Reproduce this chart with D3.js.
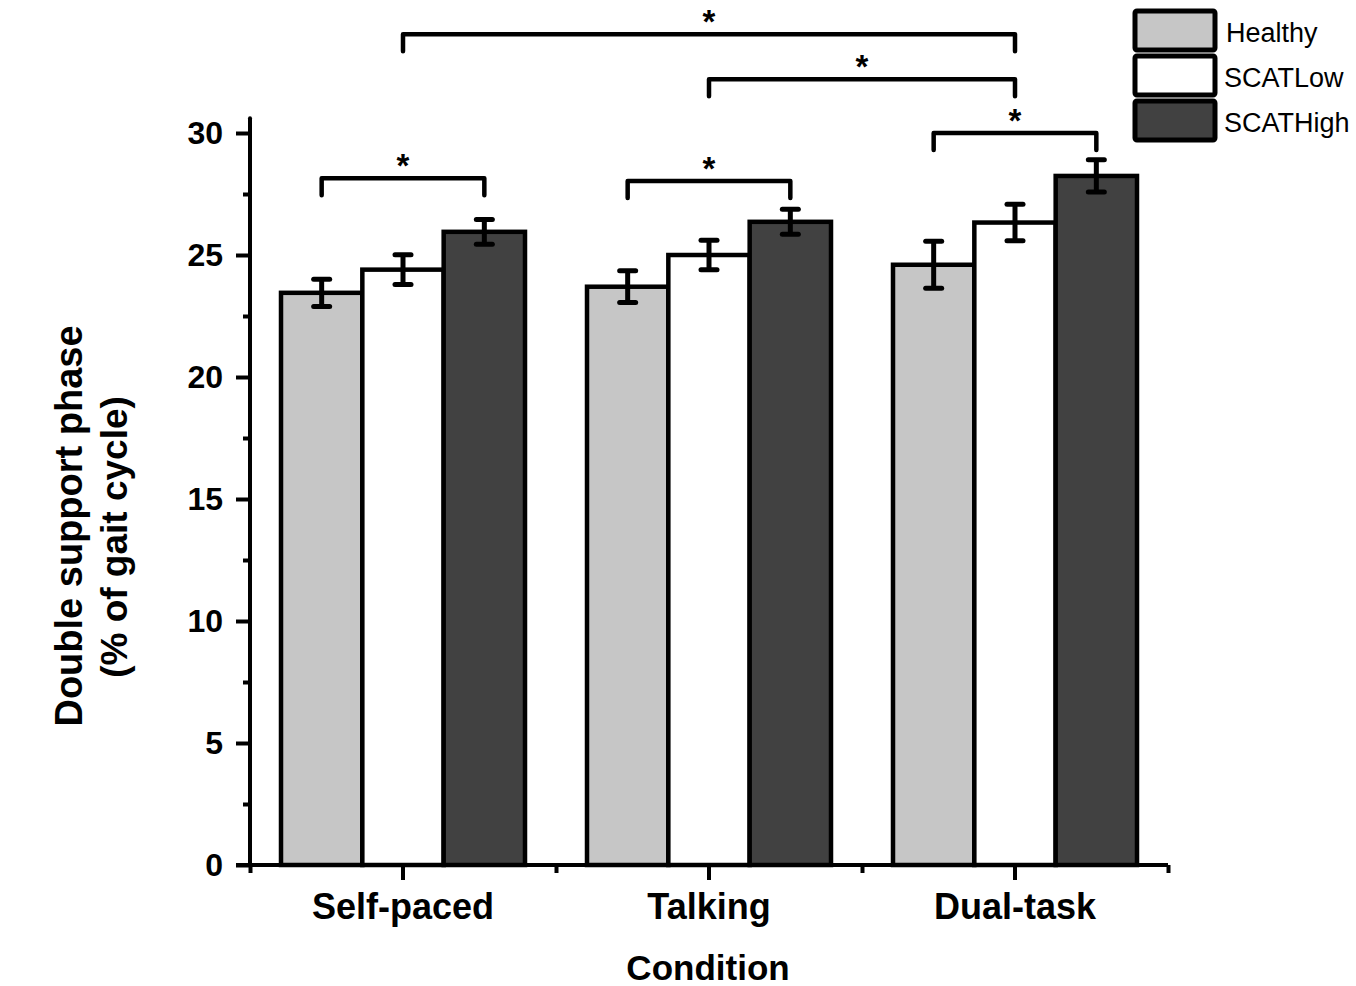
<!DOCTYPE html>
<html>
<head>
    <title>Double support phase by condition</title>
    <script src="https://cdnjs.cloudflare.com/ajax/libs/d3/7.8.5/d3.min.js"></script>
    <style>
        body {
            margin: 0;
            background: white;
        }
        svg text {
            font-family: "Liberation Sans", Arial, sans-serif;
            fill: black;
        }
    </style>
</head>
<body>
    <div id="chart"></div>

    <script>
        // Data
        const conditions = ["Self-paced", "Talking", "Dual-task"];
        const groups = ["Healthy", "SCATLow", "SCATHigh"];
        const healthy = [23.45, 23.7, 24.6];
        const scatLow = [24.4, 25.0, 26.33];
        const scatHigh = [25.95, 26.36, 28.24];
        const healthyErr = [0.56, 0.65, 0.96];
        const scatLowErr = [0.61, 0.6, 0.75];
        const scatHighErr = [0.51, 0.51, 0.66];
        const yTicks = [0, 5, 10, 15, 20, 25, 30];
        const yMinorTicks = [2.5, 7.5, 12.5, 17.5, 22.5, 27.5];

        // significance brackets: [condition, group] -> [condition, group], level in data units
        const brackets = [
            { from: [0, 0], to: [0, 2], level: 28.15 },
            { from: [1, 0], to: [1, 2], level: 28.03 },
            { from: [2, 0], to: [2, 2], level: 30.0 },
            { from: [1, 1], to: [2, 1], level: 32.2 },
            { from: [0, 1], to: [2, 1], level: 34.05 }
        ];

        const colors = { "Healthy": "#c6c6c6", "SCATLow": "#ffffff", "SCATHigh": "#414141" };

        const values = [healthy, scatLow, scatHigh];
        const errors = [healthyErr, scatLowErr, scatHighErr];

        const rows = [];
        conditions.forEach((c, i) => {
            groups.forEach((g, j) => {
                rows.push({ condition: c, group: g, value: values[j][i], err: errors[j][i] });
            });
        });

        const width = 1356;
        const height = 986;

        const svg = d3.select("#chart")
            .append("svg")
            .attr("width", width)
            .attr("height", height);

        // Scales
        const x = d3.scaleBand()
            .domain(conditions)
            .range([250, 1168])
            .padding(0);

        const xInner = d3.scaleBand()
            .domain(groups)
            .range([31, x.bandwidth() - 31]);

        const xEdge = d3.scaleLinear()
            .domain([0, conditions.length])
            .range([250, 1168]);

        const y = d3.scaleLinear()
            .domain([0, 30])
            .range([865, 133]);

        const barX = (ci, gi) => x(conditions[ci]) + xInner(groups[gi]) + xInner.bandwidth() / 2;

        // Bars
        svg.append("g")
            .selectAll("rect")
            .data(rows)
            .enter()
            .append("rect")
            .attr("x", d => x(d.condition) + xInner(d.group))
            .attr("y", d => y(d.value))
            .attr("width", xInner.bandwidth())
            .attr("height", d => y(0) - y(d.value))
            .attr("fill", d => colors[d.group])
            .attr("stroke", "black")
            .attr("stroke-width", 4.5);

        // Error bars
        const errG = svg.append("g")
            .attr("stroke", "black")
            .attr("stroke-width", 5);

        rows.forEach(d => {
            const cx = x(d.condition) + xInner(d.group) + xInner.bandwidth() / 2;
            errG.append("line")
                .attr("x1", cx).attr("x2", cx)
                .attr("y1", y(d.value + d.err)).attr("y2", y(d.value - d.err));
            [d.value + d.err, d.value - d.err].forEach(v => {
                errG.append("line")
                    .attr("x1", cx - 8).attr("x2", cx + 8)
                    .attr("y1", y(v)).attr("y2", y(v))
                    .attr("stroke-linecap", "round");
            });
        });

        // Y axis
        const yAxis = svg.append("g")
            .attr("transform", "translate(250,0)")
            .call(d3.axisLeft(y).tickValues(yTicks).tickSize(14).tickPadding(13));

        svg.append("g")
            .attr("transform", "translate(250,0)")
            .call(d3.axisLeft(y).tickValues(yMinorTicks).tickSize(7).tickFormat(""))
            .select(".domain").remove();

        yAxis.select(".domain").remove();
        svg.append("line")
            .attr("x1", 250).attr("x2", 250)
            .attr("y1", y(0)).attr("y2", y(30.6))
            .attr("stroke", "black")
            .attr("stroke-width", 4)
            .attr("stroke-linecap", "round");

        yAxis.selectAll("text")
            .style("font-size", "32px")
            .style("font-weight", "bold");

        // X axis
        const xAxis = svg.append("g")
            .attr("transform", "translate(0,865)")
            .call(d3.axisBottom(x).tickSize(15).tickPadding(13));

        svg.append("g")
            .attr("transform", "translate(0,865)")
            .call(d3.axisBottom(xEdge).tickValues(d3.range(conditions.length + 1)).tickSize(8).tickFormat(""))
            .select(".domain").remove();

        xAxis.select(".domain").remove();
        svg.append("line")
            .attr("x1", 236).attr("x2", 1168)
            .attr("y1", y(0)).attr("y2", y(0))
            .attr("stroke", "black")
            .attr("stroke-width", 4);

        xAxis.selectAll("text")
            .style("font-size", "36px")
            .style("font-weight", "bold");

        svg.selectAll(".tick line")
            .attr("stroke", "black")
            .attr("stroke-width", 4);

        // Axis titles
        svg.append("text")
            .attr("x", 708)
            .attr("y", 980)
            .attr("text-anchor", "middle")
            .style("font-size", "35px")
            .style("font-weight", "bold")
            .text("Condition");

        svg.append("text")
            .attr("transform", "translate(82,526) rotate(-90)")
            .attr("text-anchor", "middle")
            .style("font-size", "38px")
            .style("font-weight", "bold")
            .text("Double support phase");

        svg.append("text")
            .attr("transform", "translate(127,537) rotate(-90)")
            .attr("text-anchor", "middle")
            .style("font-size", "37px")
            .style("font-weight", "bold")
            .text("(% of gait cycle)");

        // Significance brackets
        const brG = svg.append("g");
        brackets.forEach(b => {
            const x1 = barX(b.from[0], b.from[1]);
            const x2 = barX(b.to[0], b.to[1]);
            const yb = y(b.level);
            brG.append("path")
                .attr("d", `M${x1},${yb + 17}V${yb}H${x2}V${yb + 17}`)
                .attr("fill", "none")
                .attr("stroke", "black")
                .attr("stroke-width", 4.5)
                .attr("stroke-linecap", "round")
                .attr("stroke-linejoin", "round");
            brG.append("text")
                .attr("x", (x1 + x2) / 2)
                .attr("y", yb - 1)
                .attr("text-anchor", "middle")
                .style("font-size", "33px")
                .style("font-weight", "bold")
                .text("*");
        });

        // Legend
        const legend = svg.append("g")
            .attr("transform", "translate(1135,11)");

        groups.forEach((g, i) => {
            legend.append("rect")
                .attr("x", 0)
                .attr("y", i * 45)
                .attr("width", 80)
                .attr("height", 39)
                .attr("fill", colors[g])
                .attr("stroke", "black")
                .attr("stroke-width", 5)
                .attr("rx", 2);
            legend.append("text")
                .attr("x", i === 0 ? 91 : 89)
                .attr("y", i * 45 + 22)
                .attr("dy", "0.35em")
                .style("font-size", "27px")
                .text(g);
        });
    </script>
</body>
</html>
